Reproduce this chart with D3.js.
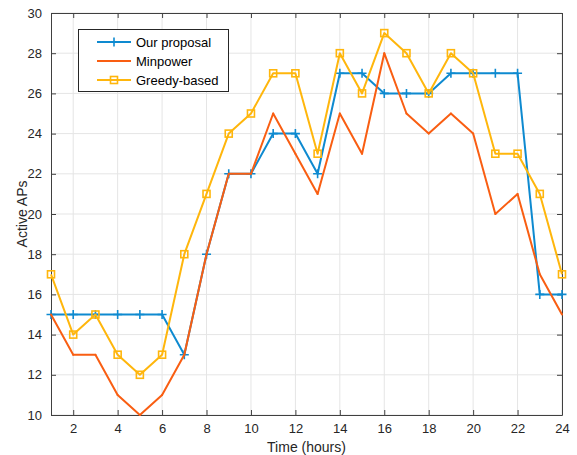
<!DOCTYPE html>
<html>
<head>
<meta charset="utf-8">
<script src="https://cdn.jsdelivr.net/npm/d3@7"></script>
<style>
  body { margin: 0; background: #fff; }
  svg { display: block; font-family: "Liberation Sans", Arial, sans-serif; }
</style>
</head>
<body>
<svg id="chart" width="577" height="455"></svg>
<script>
// Active access points per hour of the day, for three allocation schemes
const hours = d3.range(1, 25);
const ourProposal = [15, 15, 15, 15, 15, 15, 13, 18, 22, 22, 24, 24, 22, 27, 27, 26, 26, 26, 27, 27, 27, 27, 16, 16];
const minpower    = [15, 13, 13, 11, 10, 11, 13, 18, 22, 22, 25, 23, 21, 25, 23, 28, 25, 24, 25, 24, 20, 21, 17, 15];
const greedyBased = [17, 14, 15, 13, 12, 13, 18, 21, 24, 25, 27, 27, 23, 28, 26, 29, 28, 26, 28, 27, 23, 23, 21, 17];
const xTicks = [2, 4, 6, 8, 10, 12, 14, 16, 18, 20, 22, 24];
const yTicks = [10, 12, 14, 16, 18, 20, 22, 24, 26, 28, 30];

const series = [
  { name: "Our proposal", values: ourProposal, color: "#0e8ad0", marker: "plus" },
  { name: "Minpower",     values: minpower,    color: "#f95e12", marker: "dot" },
  { name: "Greedy-based", values: greedyBased, color: "#ffb60c", marker: "square" }
];

const svg = d3.select("#chart");
const m = { left: 51, right: 562, top: 13, bottom: 415 };

const x = d3.scaleLinear().domain([1, 24]).range([m.left, m.right]);
const y = d3.scaleLinear().domain([10, 30]).range([m.bottom, m.top]);

// grid
const grid = svg.append("g");
grid.selectAll(".gx").data(xTicks).join("line")
  .attr("x1", d => x(d)).attr("x2", d => x(d))
  .attr("y1", m.top).attr("y2", m.bottom)
  .attr("stroke", "#e5e5e5").attr("stroke-width", 1);
grid.selectAll(".gy").data(yTicks).join("line")
  .attr("x1", m.left).attr("x2", m.right)
  .attr("y1", d => y(d)).attr("y2", d => y(d))
  .attr("stroke", "#e5e5e5").attr("stroke-width", 1);

// axes with inward ticks on all four sides
const axisColor = "#404040";
function styleAxis(g) {
  g.select(".domain").attr("stroke", axisColor);
  g.selectAll(".tick line").attr("stroke", axisColor);
  g.selectAll(".tick text").attr("fill", "#262626").attr("font-size", "13px");
}
svg.append("g").attr("transform", `translate(0,${m.bottom})`)
  .call(d3.axisBottom(x).tickValues(xTicks).tickSizeInner(-5).tickSizeOuter(0).tickPadding(9))
  .call(styleAxis);
svg.append("g").attr("transform", `translate(0,${m.top})`)
  .call(d3.axisTop(x).tickValues(xTicks).tickSizeInner(-5).tickSizeOuter(0).tickFormat(""))
  .call(styleAxis);
svg.append("g").attr("transform", `translate(${m.left},0)`)
  .call(d3.axisLeft(y).tickValues(yTicks).tickSizeInner(-5).tickSizeOuter(0).tickPadding(9))
  .call(styleAxis);
svg.append("g").attr("transform", `translate(${m.right},0)`)
  .call(d3.axisRight(y).tickValues(yTicks).tickSizeInner(-5).tickSizeOuter(0).tickFormat(""))
  .call(styleAxis);

// axis titles
svg.append("text").attr("x", (m.left + m.right) / 2).attr("y", 452)
  .attr("text-anchor", "middle").attr("font-size", "14px").attr("fill", "#262626")
  .text("Time (hours)");
svg.append("text").attr("transform", `translate(27,${(m.top + m.bottom) / 2}) rotate(-90)`)
  .attr("text-anchor", "middle").attr("font-size", "14px").attr("fill", "#262626")
  .text("Active APs");

// markers
function drawMarker(g, type, color, cx, cy) {
  if (type === "plus") {
    g.append("path").attr("d", `M${cx - 4.5},${cy}H${cx + 4.5}M${cx},${cy - 4.5}V${cy + 4.5}`)
      .attr("stroke", color).attr("stroke-width", 1.6).attr("fill", "none");
  } else if (type === "square") {
    g.append("rect").attr("x", cx - 3.5).attr("y", cy - 3.5).attr("width", 7).attr("height", 7)
      .attr("stroke", color).attr("stroke-width", 1.6).attr("fill", "none");
  } else {
    g.append("circle").attr("cx", cx).attr("cy", cy).attr("r", 1)
      .attr("fill", color);
  }
}

const line = d3.line().x((d, i) => x(hours[i])).y(d => y(d));
series.forEach(s => {
  const g = svg.append("g");
  g.append("path").datum(s.values).attr("d", line)
    .attr("fill", "none").attr("stroke", s.color).attr("stroke-width", 2)
    .attr("stroke-linejoin", "round");
  s.values.forEach((v, i) => drawMarker(g, s.marker, s.color, x(hours[i]), y(v)));
});

// legend
const lg = svg.append("g");
lg.append("rect").attr("x", 78.5).attr("y", 29.5).attr("width", 150).attr("height", 62)
  .attr("fill", "#fff").attr("stroke", "#262626").attr("stroke-width", 1);
series.forEach((s, i) => {
  const ly = 42 + i * 19;
  lg.append("line").attr("x1", 97).attr("x2", 131).attr("y1", ly).attr("y2", ly)
    .attr("stroke", s.color).attr("stroke-width", 2);
  drawMarker(lg, s.marker, s.color, 114, ly);
  lg.append("text").attr("x", 136).attr("y", ly + 4.5).attr("font-size", "13px")
    .attr("fill", "#000").text(s.name);
});
</script>
</body>
</html>
